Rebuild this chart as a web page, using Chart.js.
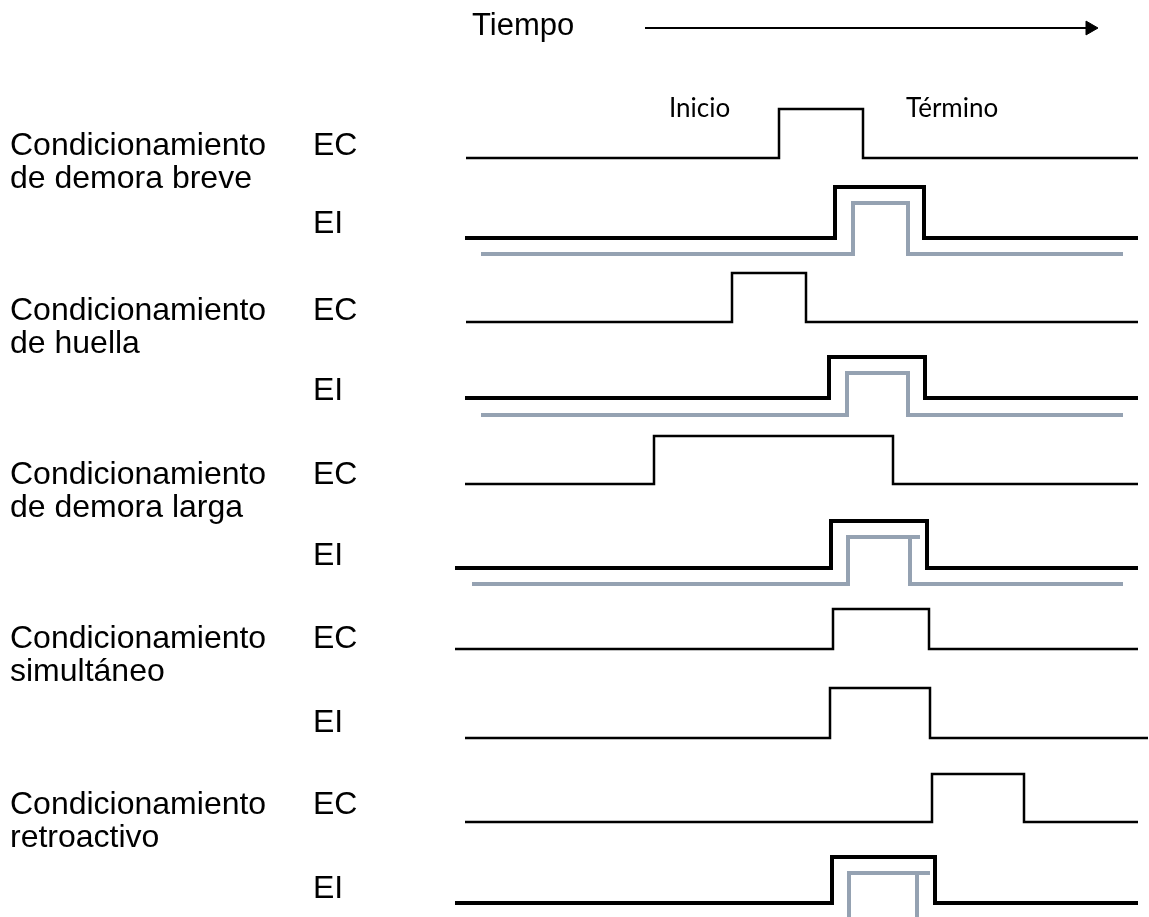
<!DOCTYPE html>
<html>
<head>
<meta charset="utf-8">
<script src="https://cdn.jsdelivr.net/npm/chart.js@4.4.1/dist/chart.umd.min.js"></script>
<style>
  html, body { margin: 0; padding: 0; background: #fff; }
  #wrap { position: relative; width: 1149px; height: 917px; overflow: hidden; }
  #chart { position: absolute; left: 0; top: 0; }
  .lbl { position: absolute; font-family: "Liberation Sans", Arial, sans-serif; font-size: 32px; color: #000; white-space: pre; line-height: 33px; }
  .title { position: absolute; font-family: "Liberation Sans", Arial, sans-serif; font-size: 31px; color: #000; line-height: 33px; }
  .small { position: absolute; font-family: Lato, "Noto Sans", sans-serif; font-size: 26px; color: #000; line-height: 26px; }
</style>
</head>
<body>
<div id="wrap">
  <canvas id="chart" width="1149" height="917"></canvas>
</div>
<script>
// rows of the diagram
const rowNames = [
   'Condicionamiento\nde demora breve',
   'Condicionamiento\nde huella',
   'Condicionamiento\nde demora larga',
   'Condicionamiento\nsimultáneo',
   'Condicionamiento\nretroactivo'
];

// EC (estimulo condicionado): time on / off, trace start / end, low and high level
const ecStart = [466, 466, 465, 455, 465];
const ecOn    = [779, 732, 654, 833, 932];
const ecOff   = [863, 806, 893, 929, 1024];
const ecEnd   = [1138, 1138, 1138, 1138, 1138];
const ecLow   = [158, 322, 484, 649, 822];
const ecHigh  = [109, 273, 436, 609, 774];

// EI (estimulo incondicionado)
const eiStart = [465, 465, 455, 465, 455];
const eiOn    = [835, 829, 831, 830, 832];
const eiOff   = [924, 925, 927, 930, 935];
const eiEnd   = [1138, 1138, 1138, 1148, 1138];
const eiLow   = [238, 398, 568, 738, 903];
const eiHigh  = [187, 357, 521, 688, 857];
const eiThick = [true, true, true, false, true];

// grey response trace under EI (row 4 has none)
const crStart = [481, 481, 472, null, 849];
const crOn    = [853, 847, 848, null, 849];
const crOff   = [908, 908, 910, null, 917];
const crEnd   = [1123, 1123, 1123, null, 917];
const crLow   = [254, 415, 584, null, 935];
const crHigh  = [203, 373, 537, null, 873];
const crDarkFrom = [857, 874, 874, null, 899];
const crDarkTo   = [888, 907, 908, null, 922];
const crCapTo    = [908, 908, 920, null, 930];

// time arrow
const arrowFrom = 645;
const arrowTo = 1090;
const arrowLevel = 28;

function pulse(start, on, off, end, low, high) {
   return [
      { x: start, y: low }, { x: on, y: low }, { x: on, y: high },
      { x: off, y: high }, { x: off, y: low }, { x: end, y: low }
   ];
}

const GREY = '#95a2b2';
const DARK = '#5a6c88';
const datasets = [];

for (let i = 0; i < rowNames.length; i++) {
   if (crOn[i] !== null) {
      datasets.push({
         data: pulse(crStart[i], crOn[i], crOff[i], crEnd[i], crLow[i], crHigh[i]),
         borderColor: GREY, borderWidth: 4
      });
      datasets.push({
         data: [{ x: crOff[i], y: crHigh[i] }, { x: crCapTo[i], y: crHigh[i] }],
         borderColor: GREY, borderWidth: 4
      });
      datasets.push({
         data: [{ x: crDarkFrom[i], y: crHigh[i] }, { x: crDarkTo[i], y: crHigh[i] }],
         borderColor: DARK, borderWidth: 4
      });
   }
   datasets.push({
      data: pulse(ecStart[i], ecOn[i], ecOff[i], ecEnd[i], ecLow[i], ecHigh[i]),
      borderColor: '#000', borderWidth: 2.5
   });
   datasets.push({
      data: pulse(eiStart[i], eiOn[i], eiOff[i], eiEnd[i], eiLow[i], eiHigh[i]),
      borderColor: '#000', borderWidth: eiThick[i] ? 4 : 2.5
   });
}

datasets.push({
   data: [{ x: arrowFrom, y: arrowLevel }, { x: arrowTo - 4, y: arrowLevel }],
   borderColor: '#000', borderWidth: 2
});
datasets.push({
   data: [{ x: arrowTo, y: arrowLevel }],
   showLine: false,
   pointStyle: 'triangle', pointRotation: 90, pointRadius: 8,
   pointBackgroundColor: '#000', pointBorderColor: '#000', pointBorderWidth: 1
});

datasets.forEach(d => {
   d.fill = false;
   d.tension = 0;
   if (d.pointRadius === undefined) d.pointRadius = 0;
   d.borderJoinStyle = 'miter';
   d.borderCapStyle = 'butt';
});

new Chart(document.getElementById('chart'), {
   type: 'line',
   data: { datasets: datasets },
   options: {
      responsive: false,
      animation: false,
      devicePixelRatio: 1,
      layout: { padding: 0, autoPadding: false },
      plugins: { legend: { display: false }, tooltip: { enabled: false } },
      scales: {
         x: { type: 'linear', min: 0, max: 1149, display: false },
         y: { type: 'linear', min: 0, max: 917, reverse: true, display: false }
      }
   }
});

// text labels
const wrap = document.getElementById('wrap');
function addLabel(text, x, y, cls) {
   const el = document.createElement('div');
   el.className = cls;
   el.textContent = text;
   el.style.left = x + 'px';
   el.style.top = y + 'px';
   wrap.appendChild(el);
}
const rowTextTop = [128, 293, 457, 621, 787];
const eiTextTop = [206, 373, 538, 705, 871];
rowNames.forEach((name, i) => {
   addLabel(name, 10, rowTextTop[i], 'lbl');
   addLabel('EC', 313, rowTextTop[i], 'lbl');
   addLabel('EI', 313, eiTextTop[i], 'lbl');
});
addLabel('Tiempo', 472, 8, 'title');
addLabel('Inicio', 669, 94, 'small');
addLabel('Término', 906, 94, 'small');
</script>
</body>
</html>
